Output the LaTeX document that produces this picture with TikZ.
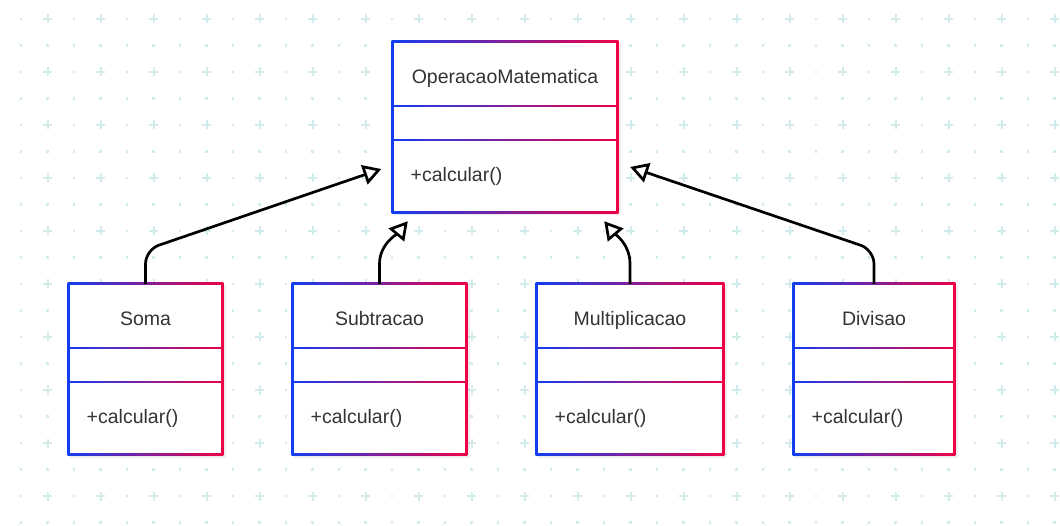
\documentclass[tikz,border=0pt]{standalone}
\usepackage{fontspec}
\setmainfont{Liberation Sans}
\usetikzlibrary{arrows.meta,calc}
\definecolor{umlblue}{RGB}{18,62,240}
\definecolor{umlred}{RGB}{240,0,70}
\definecolor{gridc}{RGB}{210,236,236}
\definecolor{txt}{RGB}{51,51,51}
\tikzset{
  classname/.style={font=\fontsize{19.5}{22}\selectfont, text=txt, anchor=base, inner sep=0pt},
  member/.style={font=\fontsize{19.5}{22}\selectfont, text=txt, anchor=base west, inner sep=0pt},
  classframe/.style={draw=none, inner sep=0pt, minimum width=#1, minimum height=170pt},
  inh/.style={draw=black, line width=2.7pt, rounded corners=14pt,
    -{Triangle[open, length=18pt 0, width=20pt 0]}},
}
% name, x-left, x-right, y-top, title
\newcommand\umlclass[5]{%
  \fill[black, opacity=0.07] ({#2},{#4+1}) rectangle ({#3+3.5},{#4+173.5});
  \shade[left color=umlblue, right color=umlred] ({#2-1.4},{#4-1.4}) rectangle ({#3+1.4},{#4+171.4});
  \fill[white] ({#2+1.4},{#4+1.4}) rectangle ({#3-1.4},{#4+62.6});
  \fill[white] ({#2+1.4},{#4+65.4}) rectangle ({#3-1.4},{#4+96.6});
  \fill[white] ({#2+1.4},{#4+99.4}) rectangle ({#3-1.4},{#4+168.6});
  \node[classframe={#3-#2}] (#1) at ({(#2+#3)/2},{#4+85}) {};
  \node[classname] (#1-name) at ({(#2+#3)/2},{#4+41.5}) {#5};
  \node[member] (#1-op) at ({#2+17.5},{#4+139.5}) {+calcular()};
}
\begin{document}
\begin{tikzpicture}[x=1pt,y=-1pt]
\useasboundingbox (0,0) rectangle (1060,526);
\fill[white] (0,0) rectangle (1060,526);
% background grid: dots everywhere, plus signs on every other row and column
\foreach \i in {0,...,39}{
  \foreach \j in {0,...,19}{
    \pgfmathsetmacro\gx{21+26.5*\i}
    \pgfmathsetmacro\gy{19+26.5*\j}
    \pgfmathtruncatemacro\isplus{(mod(\i,2)==1 && mod(\j,2)==0) ? 1 : 0}
    \ifnum\isplus=1
      \draw[gridc, line width=2pt] (\gx-4.5,\gy) -- (\gx+4.5,\gy) (\gx,\gy-4.5) -- (\gx,\gy+4.5);
    \else
      \fill[gridc] (\gx-1.1,\gy-1.1) rectangle (\gx+1.1,\gy+1.1);
    \fi
  }
}
% classes
\umlclass{op}{393}{617}{42}{OperacaoMatematica}
\umlclass{soma}{69}{222}{284}{Soma}
\umlclass{sub}{293}{466}{284}{Subtracao}
\umlclass{mult}{537}{723}{284}{Multiplicacao}
\umlclass{div}{794}{954}{284}{Divisao}
% arrow targets near the superclass
\coordinate (tA) at ($(op.west)+(-11.5,42)$);
\coordinate (tB) at ($(op.south west)+(15,9)$);
\coordinate (tC) at ($(op.south east)+(-13,9)$);
\coordinate (tD) at ($(op.east)+(13,40)$);
% inheritance connectors
\draw[inh] (soma.north) -- ++(0,-34) -- (tA);
\draw[inh] (div.north) -- ++(0,-34) -- (tD);
\draw[inh, rounded corners=0pt] (sub.north) -- ++(0,-20) .. controls ++(0,-20) and ($(tB)+(-10,12)$) .. (tB);
\draw[inh, rounded corners=0pt] (mult.north) -- ++(0,-20) .. controls ++(0,-20) and ($(tC)+(10,12)$) .. (tC);
\end{tikzpicture}
\end{document}
